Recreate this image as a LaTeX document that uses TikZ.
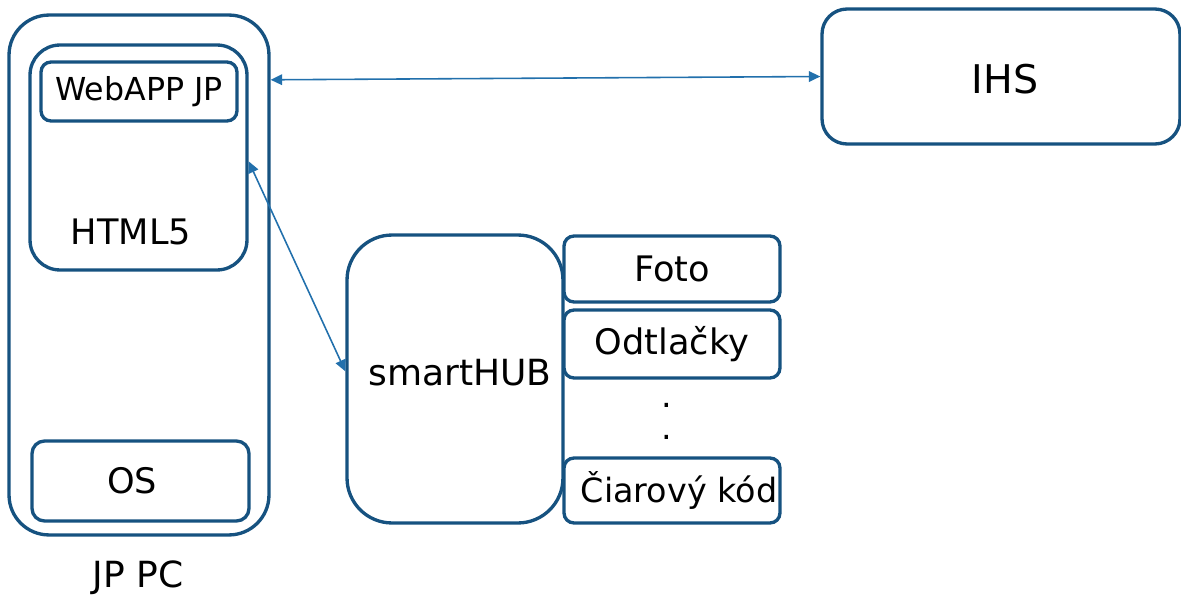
\documentclass[tikz,border=0pt]{standalone}
\usepackage{fontspec}
\usepackage{tikz}
\usetikzlibrary{arrows.meta}
\setmainfont{DejaVu Sans}
\definecolor{boxblue}{RGB}{22,82,128}
\definecolor{arrowblue}{RGB}{34,112,172}

\begin{document}
\begin{tikzpicture}[x=0.02cm,y=-0.02cm,
   thick,box node/.style={draw=boxblue,line width=1.9pt,inner sep=0pt}]

\tikzstyle {edge} = [{Triangle[length=6.5pt,width=6pt]}-{Triangle[length=6.5pt,width=6pt]}, draw=arrowblue, line width=0.9pt];

\useasboundingbox (0,0) rectangle (1181,595);

\node[box node,rounded corners=0.8cm,minimum width=5.2cm,minimum height=10.4cm] (jppc) at (139,275){};
\node[box node,rounded corners=0.6cm,minimum width=4.34cm,minimum height=4.5cm] (html) at (138.5,157.5){};
\node[box node,rounded corners=0.2cm,minimum width=3.92cm,minimum height=1.18cm,font=\fontsize{18}{21}\selectfont] (webapp) at (139,91.5){WebAPP JP};
\node[text centered,font=\fontsize{20}{24}\selectfont] (html5) at (131,232){HTML5};
\node[box node,rounded corners=0.25cm,minimum width=4.34cm,minimum height=1.6cm] (os) at (140.5,481){};
\node[text centered,font=\fontsize{20}{24}\selectfont] (oslabel) at (132,481){OS};
\node[text centered,font=\fontsize{20.5}{24}\selectfont] (jppclabel) at (138,578){JP PC};

\node[box node,rounded corners=0.5cm,minimum width=7.16cm,minimum height=2.7cm] (ihs) at (1001,76.5){};
\node[text centered,font=\fontsize{22.5}{26}\selectfont] (ihslabel) at (1005,79){IHS};

\node[box node,rounded corners=0.9cm,minimum width=4.32cm,minimum height=5.76cm] (hub) at (455,379){};
\node[text centered,font=\fontsize{20.5}{24}\selectfont] (hublabel) at (460,373){smartHUB};
\node[box node,rounded corners=0.2cm,minimum width=4.32cm,minimum height=1.32cm,font=\fontsize{20}{24}\selectfont] (foto) at (672,269){Foto};
\node[box node,rounded corners=0.2cm,minimum width=4.32cm,minimum height=1.36cm,font=\fontsize{20}{24}\selectfont] (odtl) at (672,344){Odtlačky};
\node[text centered,font=\fontsize{19}{23}\selectfont] (dot1) at (667,405){.};
\node[text centered,font=\fontsize{19}{23}\selectfont] (dot2) at (667,437){.};
\node[box node,rounded corners=0.2cm,minimum width=4.32cm,minimum height=1.3cm] (kod) at (672,490.5){};
\node[text centered,font=\fontsize{19}{23}\selectfont] (kodlabel) at (679,490.5){Čiarový kód};

\path (jppc.56) edge [edge]  (ihs.west);
\path (html.-2) edge [edge]  (hub.176);

\end{tikzpicture}
\end{document}
